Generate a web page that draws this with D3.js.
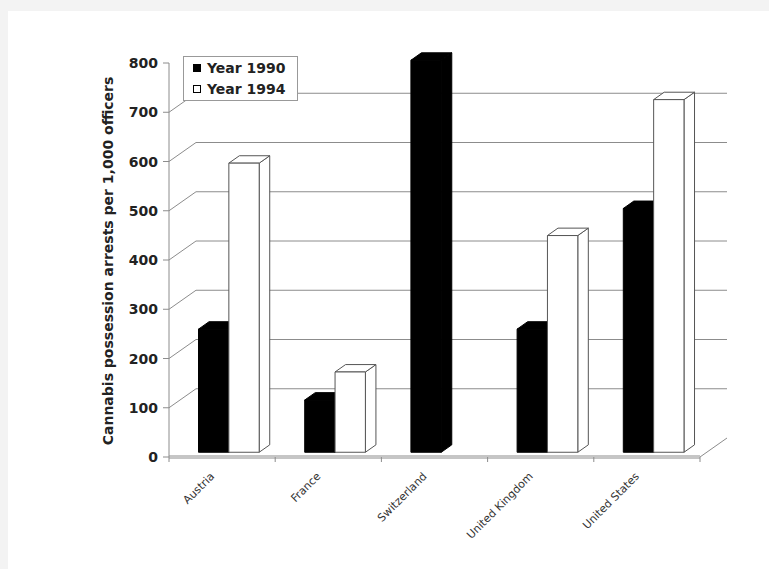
<!DOCTYPE html>
<html>
<head>
<meta charset="utf-8">
<script src="https://cdn.jsdelivr.net/npm/d3@7"></script>
<style>
  html, body { margin: 0; padding: 0; background: #f3f3f3; }
  svg { display: block; }
</style>
</head>
<body>
<svg id="chart" width="769" height="569"></svg>
<script>
// Cannabis possession arrests per 1,000 officers, by country
const categories = ["Austria", "France", "Switzerland", "United Kingdom", "United States"];
const seriesNames = ["Year 1990", "Year 1994"];
const year1990 = [250, 106, 796, 250, 495];
const year1994 = [587, 163, null, 440, 716];
const yTicks = [0, 100, 200, 300, 400, 500, 600, 700, 800];
const seriesFill = ["#000000", "#ffffff"];

const svg = d3.select("#chart");
const font = "'DejaVu Sans', Verdana, sans-serif";

// white chart panel
svg.append("rect").attr("x", 8).attr("y", 11).attr("width", 761).attr("height", 558).attr("fill", "#ffffff");

// front plane geometry + depth of the floor (oblique projection)
const left = 169, right = 700, floorY = 457, topY = 63;
const depth = { x: 27, y: -19 };
const barFront = 0.25, barBack = 0.64;

const y = d3.scaleLinear().domain([0, 800]).range([floorY, topY]);
const x = d3.scaleBand().domain(categories).range([left, right]).paddingInner(0).paddingOuter(0);
const xs = d3.scaleBand().domain(seriesNames).range([0, x.bandwidth()]).paddingInner(0).paddingOuter(0.75);

const gridColor = "#8c8c8c";
const grid = svg.append("g").attr("stroke", gridColor).attr("stroke-width", 1).attr("fill", "none");

// left wall and back wall gridlines
yTicks.filter(v => v > 0 && v < 800).forEach(v => {
  const y0 = y(v);
  grid.append("line").attr("x1", left).attr("y1", y0).attr("x2", left + depth.x).attr("y2", y0 + depth.y);
  grid.append("line").attr("x1", left + depth.x).attr("y1", y0 + depth.y).attr("x2", right + depth.x).attr("y2", y0 + depth.y);
});

// floor front edge and right floor edge
grid.append("line").attr("x1", left).attr("y1", floorY - 1).attr("x2", right).attr("y2", floorY - 1);
grid.append("line").attr("x1", left).attr("y1", floorY + 1).attr("x2", right).attr("y2", floorY + 1);
grid.append("line").attr("x1", right).attr("y1", floorY).attr("x2", right + depth.x).attr("y2", floorY + depth.y);

// vertical axis line and ticks
grid.append("line").attr("x1", left).attr("y1", topY).attr("x2", left).attr("y2", floorY);
yTicks.forEach(v => {
  grid.append("line").attr("x1", left - 6).attr("y1", y(v)).attr("x2", left).attr("y2", y(v));
});
// category boundary ticks
d3.range(categories.length + 1).forEach(i => {
  const xx = left + i * x.bandwidth();
  grid.append("line").attr("x1", xx).attr("y1", floorY).attr("x2", xx).attr("y2", floorY + 5);
});

// y tick labels
svg.append("g").selectAll("text").data(yTicks).join("text")
  .attr("x", 158).attr("y", d => y(d)).attr("dy", "0.36em")
  .attr("text-anchor", "end")
  .attr("font-family", font).attr("font-weight", "bold").attr("font-size", 14)
  .attr("fill", "#222")
  .text(d => d);

// y axis title
svg.append("text")
  .attr("transform", "translate(113,261) rotate(-90)")
  .attr("text-anchor", "middle")
  .attr("font-family", font).attr("font-weight", "bold").attr("font-size", 14)
  .attr("fill", "#222")
  .text("Cannabis possession arrests per 1,000 officers");

// category labels, rotated
svg.append("g").selectAll("text").data(categories).join("text")
  .attr("transform", d => `translate(${x(d) + x.bandwidth() / 2 - 7},${floorY + 20}) rotate(-45)`)
  .attr("text-anchor", "end")
  .attr("font-family", font).attr("font-size", 11)
  .attr("fill", "#333")
  .text(d => d);

// 3D bars
const fx = depth.x * barFront, fy = depth.y * barFront;
const dx = depth.x * (barBack - barFront), dy = depth.y * (barBack - barFront);
const barsG = svg.append("g");
const seriesValues = [year1990, year1994];
categories.forEach((c, ci) => {
  seriesNames.forEach((s, si) => {
    const v = seriesValues[si][ci];
    if (v == null) return;
    const x0 = x(c) + xs(s) + fx;
    const w = xs.bandwidth();
    const yb = y(0) + fy;
    const yt = y(v) + fy;
    const fill = seriesFill[si];
    const stroke = si === 0 ? "#000" : "#555";
    const g = barsG.append("g").attr("fill", fill).attr("stroke", stroke).attr("stroke-width", 1).attr("stroke-linejoin", "round");
    // side face
    g.append("path").attr("d", `M${x0 + w},${yt}L${x0 + w + dx},${yt + dy}L${x0 + w + dx},${yb + dy}L${x0 + w},${yb}Z`);
    // top face
    g.append("path").attr("d", `M${x0},${yt}L${x0 + dx},${yt + dy}L${x0 + w + dx},${yt + dy}L${x0 + w},${yt}Z`);
    // front face
    g.append("rect").attr("x", x0).attr("y", yt).attr("width", w).attr("height", yb - yt);
  });
});

// legend
const lg = svg.append("g");
lg.append("rect").attr("x", 183.5).attr("y", 56.5).attr("width", 114).attr("height", 44)
  .attr("fill", "#fff").attr("stroke", "#999");
seriesNames.forEach((s, i) => {
  const cy = 68 + i * 21;
  lg.append("rect").attr("x", 193.5).attr("y", cy - 3.5).attr("width", 7).attr("height", 7)
    .attr("fill", seriesFill[i]).attr("stroke", "#000");
  lg.append("text").attr("x", 207).attr("y", cy).attr("dy", "0.36em")
    .attr("font-family", font).attr("font-weight", "bold").attr("font-size", 14)
    .attr("fill", "#222").text(s);
});
</script>
</body>
</html>
